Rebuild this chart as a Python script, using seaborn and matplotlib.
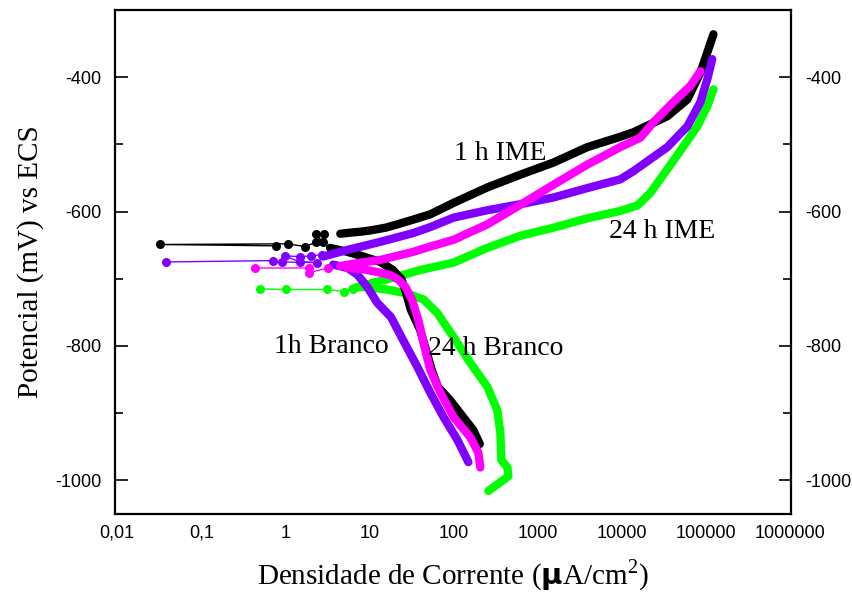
import numpy as np
import pandas as pd
import matplotlib
matplotlib.use("Agg")
import matplotlib.pyplot as plt
from matplotlib.ticker import FixedLocator, LogLocator, NullFormatter
import seaborn as sns

# ---- polarization data: current density (uA/cm2) and potential (mV vs ECS) ----
# 1 h IME (black)
black_cath_i = [205, 171, 130, 91, 65, 55, 48, 40, 31, 27, 24, 19, 13.5, 8.5, 5.5, 3.4]
black_cath_e = [-946, -925, -906, -881, -861, -836, -810, -776, -746, -719, -701, -687, -675, -667, -660, -654]
black_corr_i = [2.9, 2.34, 2.8, 2.3, 1.7, 1.06, 0.0325, 0.78]
black_corr_e = [-634, -634, -646, -646, -652, -648, -649, -651]
black_anod_i = [4.5, 6.3, 7.8, 10.3, 15.5, 21.5, 33, 53, 100, 252, 622, 1540, 3900, 8870,
                13700, 34800, 60300, 86100, 104000, 123000]
black_anod_e = [-633, -631, -630, -628, -624, -619, -612, -604, -587, -564, -545, -527, -504, -490,
                -482, -458, -433, -393, -363, -336]

# 1h Branco (magenta)
mag_cath_i = [208, 197, 158, 100, 70, 53, 44, 38, 32, 27, 22, 18, 13.5, 8.5, 5.5]
mag_cath_e = [-981, -959, -936, -906, -870, -836, -796, -761, -731, -713, -701, -695, -691, -686, -684]
mag_corr_i = [3.2, 1.9, 1.9, 0.44]
mag_corr_e = [-684, -691, -684, -684]
mag_anod_i = [4.5, 7.8, 13.5, 33, 53, 100, 252, 622, 1540, 3900, 9600, 16600, 23800, 41000, 65300, 86100]
mag_anod_e = [-681, -676, -672, -660, -652, -642, -619, -590, -560, -530, -504, -490, -467, -437, -413, -391]

# 24 h Branco (violet)
vio_cath_i = [150, 111, 76, 53, 37, 25, 18, 12.4, 9.4, 7.2, 5.5, 3.7]
vio_cath_e = [-973, -940, -906, -870, -831, -791, -757, -736, -712, -694, -684, -679]
vio_corr_i = [2.75, 2.0, 1.5, 0.98, 1.5, 2.4, 0.92, 0.72, 0.0385]
vio_corr_e = [-664, -666, -667, -666, -675, -676, -675, -673, -675]
vio_anod_i = [2.8, 5.5, 13.5, 33, 53, 100, 252, 622, 1540, 3900, 9600, 13700, 34800, 60300,
              86100, 104000, 119000]
vio_anod_e = [-667, -657, -645, -632, -623, -609, -598, -589, -579, -565, -552, -540, -504, -473,
              -437, -403, -373]

# 24 h IME (green)
grn_cath_i = [259, 449, 437, 370, 360, 332, 252, 158, 100, 64, 44, 28, 16, 10, 7.2]
grn_cath_e = [-1016, -994, -981, -970, -930, -896, -861, -825, -787, -751, -731, -722, -716, -713, -712]
grn_corr_i = [6.3, 5.0, 3.1, 1.03, 0.50]
grn_corr_e = [-715, -719, -716, -716, -715]
grn_anod_i = [6.3, 11, 21.5, 40, 100, 252, 622, 1540, 3900, 9600, 15300, 21900, 34800, 54000,
              79200, 104000, 123000]
grn_anod_e = [-715, -706, -697, -687, -676, -654, -636, -624, -610, -599, -591, -572, -537, -503,
              -473, -443, -418]

x_tick_values = [0.01, 0.1, 1, 10, 100, 1000, 10000, 100000, 1000000]
x_tick_labels = ["0,01", "0,1", "1", "10", "100", "1000", "10000", "100000", "1000000"]
y_major = [-1000, -800, -600, -400]
y_minor = [-900, -700, -500]

curve_labels = ["1 h IME", "24 h IME", "1h Branco", "24 h Branco"]
label_pos_i = [360, 30400, 3.5, 314]
label_pos_e = [-514, -630, -801, -804]

# ---- figure ----
sns.set_style("white")
plt.rcParams["font.family"] = ["Liberation Sans", "DejaVu Sans"]
plt.rcParams["mathtext.fontset"] = "custom"
plt.rcParams["mathtext.rm"] = "Liberation Serif"
for key in ("text.color", "axes.labelcolor", "xtick.color", "ytick.color", "axes.edgecolor"):
    plt.rcParams[key] = "black"

fig = plt.figure(figsize=(8.53, 5.94), dpi=100)
ax = fig.add_axes([0.135, 0.135, 0.7925, 0.848])
ax.set_xscale("log")

curves = [
    ("#00FF00", grn_cath_i, grn_cath_e, grn_corr_i, grn_corr_e, grn_anod_i, grn_anod_e, 2),
    ("#000000", black_cath_i, black_cath_e, black_corr_i, black_corr_e, black_anod_i, black_anod_e, 3),
    ("#8000FF", vio_cath_i, vio_cath_e, vio_corr_i, vio_corr_e, vio_anod_i, vio_anod_e, 4),
    ("#FF00FF", mag_cath_i, mag_cath_e, mag_corr_i, mag_corr_e, mag_anod_i, mag_anod_e, 5),
]

for color, ci, ce, ri, re, ai, ae, z in curves:
    for seg_i, seg_e in ((ci, ce), (ai, ae)):
        df = pd.DataFrame({"i": seg_i, "E": seg_e})
        sns.lineplot(data=df, x="i", y="E", sort=False, estimator=None, color=color,
                     lw=6, solid_capstyle="round", solid_joinstyle="round", ax=ax, zorder=z)
    df = pd.DataFrame({"i": ri, "E": re})
    sns.lineplot(data=df, x="i", y="E", sort=False, estimator=None, color=color,
                 lw=1.0, marker="o", markersize=6.5, markeredgewidth=0, ax=ax, zorder=z)

for txt, xi, ye in zip(curve_labels, label_pos_i, label_pos_e):
    ax.text(xi, ye, txt, ha="center", va="center", fontsize=20,
            family=["Liberation Serif", "DejaVu Serif"], color="black", zorder=10)

ax.set_xlim(10 ** -2.024, 10 ** 6.014)
ax.set_ylim(-1050, -300)

ax.set_xticks(x_tick_values)
ax.set_xticklabels(x_tick_labels)
ax.xaxis.set_minor_locator(LogLocator(base=10, subs=np.arange(2, 10), numticks=20))
ax.xaxis.set_minor_formatter(NullFormatter())
ax.yaxis.set_major_locator(FixedLocator(y_major))
ax.yaxis.set_minor_locator(FixedLocator(y_minor))
ax.set_yticklabels([str(v) for v in y_major])

ax.tick_params(axis="x", which="major", direction="in", length=6, width=1.2, labelsize=13, pad=8,
               top=False, colors="black")
ax.tick_params(axis="x", which="minor", direction="in", length=3.5, width=1.0, top=False, colors="black")
ax.tick_params(axis="y", which="major", direction="in", length=9, width=1.2, labelsize=13, pad=10,
               left=True, right=True, labelleft=True, labelright=True, colors="black")
ax.tick_params(axis="y", which="minor", direction="in", length=6, width=1.2, left=True, right=True,
               colors="black")

for sp in ax.spines.values():
    sp.set_linewidth(1.6)
    sp.set_color("black")

serif = ["Liberation Serif", "DejaVu Serif"]
ax.set_xlabel(r"Densidade de Corrente ($\mathbf{\mu}$A/cm$^{2}$)", fontsize=21, family=serif,
              labelpad=11, color="black")
ax.set_ylabel("Potencial (mV) vs ECS", fontsize=21, family=serif, labelpad=8, color="black")

fig.savefig("out.png", dpi=100, facecolor="white")
